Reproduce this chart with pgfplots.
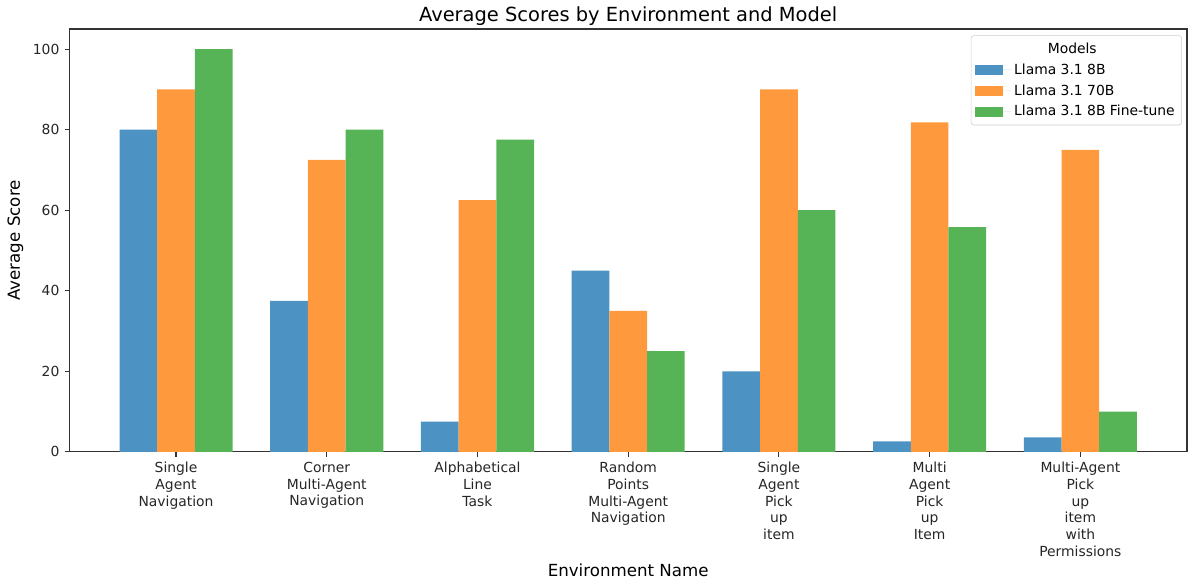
\documentclass[border=0pt]{standalone}
\usepackage{fontspec}
\setmainfont{DejaVu Sans}
\usepackage{pgfplots}
\pgfplotsset{compat=1.18}

\definecolor{cblue}{HTML}{4C92C3}
\definecolor{corange}{HTML}{FF993E}
\definecolor{cgreen}{HTML}{56B356}

\newlength\legw
\begin{document}
\settowidth{\legw}{\fontsize{10}{12}\selectfont Llama 3.1 8B Fine-tune}
\begin{tikzpicture}
\begin{axis}[
    name=ax,
    at={(0,0)}, anchor=south west,
    scale only axis,
    width=804.96pt, height=304.56pt,
    xmin=-0.7075, xmax=6.7075,
    ymin=0, ymax=105,
    ybar, bar width=0.25,
    xtick={0,...,6},
    xticklabels={
        {Single\\Agent\\Navigation},
        {Corner\\Multi-Agent\\Navigation},
        {Alphabetical\\Line\\Task},
        {Random\\Points\\Multi-Agent\\Navigation},
        {Single\\Agent\\Pick\\up\\item},
        {Multi\\Agent\\Pick\\up\\Item},
        {Multi-Agent\\Pick\\up\\item\\with\\Permissions}},
    ytick={0,20,...,100},
    yticklabels={0,20,40,60,80,100},
    tick align=outside,
    major tick length=3.5pt,
    xtick pos=left, ytick pos=left,
    tick style={black!80, line width=0.8pt},
    axis line style={black!80, line width=0.8pt},
    ticklabel style={font=\fontsize{10}{12}\selectfont, text=black!85},
    xticklabel style={align=center, anchor=north, inner sep=0pt, yshift=-3.8pt},
    yticklabel style={anchor=east, inner sep=0pt, xshift=-3.5pt},
    every axis title shift=0pt,
    title={Average Scores by Environment and Model},
    title style={font=\fontsize{14}{16}\selectfont, at={(axis description cs:0.5,1)}, anchor=center, yshift=9.4pt},
    xlabel={Environment Name},
    xlabel style={font=\fontsize{12}{14}\selectfont, at={(axis description cs:0.5,0)}, anchor=center, yshift=-85pt},
    ylabel={Average Score},
    ylabel style={font=\fontsize{12}{14}\selectfont, at={(axis description cs:0,0.5)}, anchor=center, yshift=38.9pt},
    legend style={at={(axis description cs:0.9955,0.985)}, anchor=north east,
        draw=black!20, rounded corners=2pt, font=\fontsize{10}{12}\selectfont,
        row sep=2pt, inner xsep=3pt, inner ysep=3pt},
    legend cell align=left,
    legend image code/.code={\fill[#1,sharp corners] (0pt,-3.5pt) rectangle (20pt,3.5pt); \path (20pt,0pt) -- (26pt,0pt);},
]
\addlegendimage{empty legend}
\addlegendentry{\hspace{-32pt}\makebox[\dimexpr\legw+32pt\relax][c]{Models}}

\addplot[fill=cblue, draw=none, bar shift=-0.25] coordinates {
    (0,80) (1,37.5) (2,7.5) (3,45) (4,20) (5,2.6) (6,3.6)};
\addlegendentry{Llama 3.1 8B}

\addplot[fill=corange, draw=none, bar shift=0] coordinates {
    (0,90) (1,72.5) (2,62.5) (3,35) (4,90) (5,81.8) (6,75)};
\addlegendentry{Llama 3.1 70B}

\addplot[fill=cgreen, draw=none, bar shift=0.25] coordinates {
    (0,100) (1,80) (2,77.5) (3,25) (4,60) (5,55.8) (6,10)};
\addlegendentry{Llama 3.1 8B Fine-tune}
\end{axis}
\pgfresetboundingbox
\path[use as bounding box] ([shift={(-46.8pt,-94.32pt)}]ax.south west) rectangle ([shift={(0.72pt,20.88pt)}]ax.north east);
\end{tikzpicture}
\end{document}
